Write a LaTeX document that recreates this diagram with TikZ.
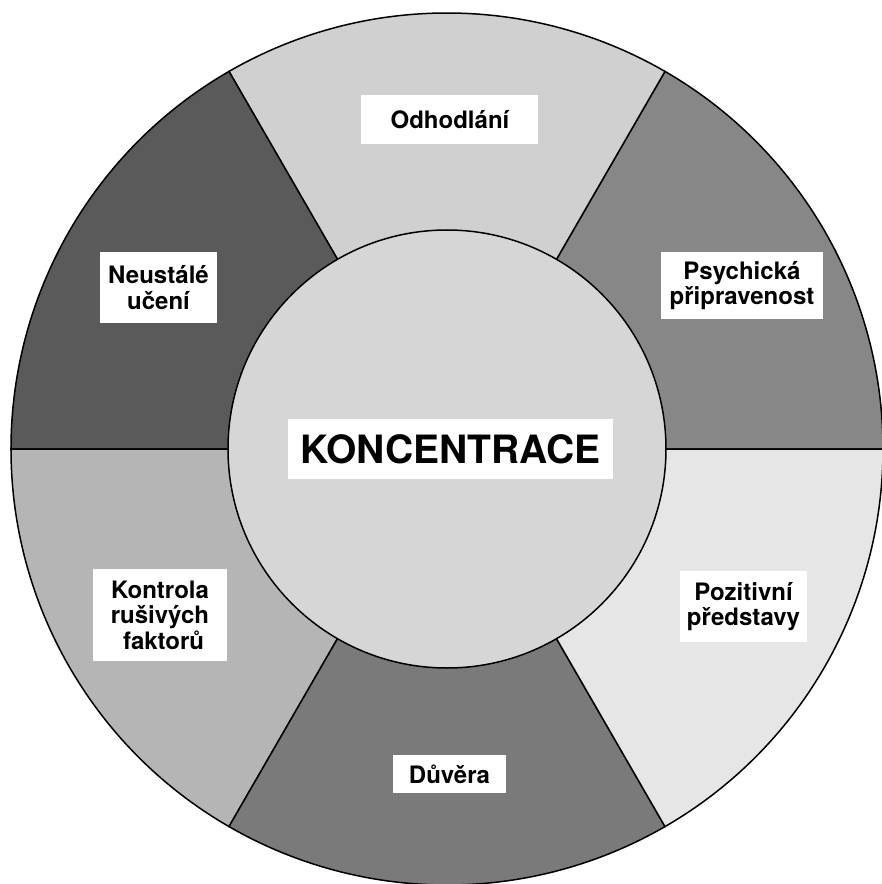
\documentclass[tikz,border=0pt]{standalone}
\usepackage{fontspec}
\setmainfont{TeX Gyre Heros}
\definecolor{psychicka}{HTML}{878787}
\definecolor{odhodlani}{HTML}{D0D0D0}
\definecolor{neustale}{HTML}{5A5A5A}
\definecolor{kontrola}{HTML}{B5B5B5}
\definecolor{duvera}{HTML}{7A7A7A}
\definecolor{pozitivni}{HTML}{E6E6E6}
\definecolor{stred}{HTML}{D6D6D6}

\begin{document}
\begin{tikzpicture}[x=1pt,y=1pt,line width=1.5pt,
  stitek/.style={fill=white, inner sep=0pt, align=center,
    font=\bfseries\fontsize{24}{25.5}\selectfont}]
\useasboundingbox (-447,-435) rectangle (435,449);
\newcommand\vysec[2]{
\path[draw,fill=#2] (0,0) -- (#1:436) arc[start angle=#1, end angle=#1+60, radius=436] -- cycle;
}
\vysec{0}{psychicka}
\vysec{60}{odhodlani}
\vysec{120}{neustale}
\vysec{180}{kontrola}
\vysec{240}{duvera}
\vysec{300}{pozitivni}
\path[draw,fill=stred] (0,0) circle[radius=219];
\node[stitek, minimum width=325pt, minimum height=60pt,
  font=\bfseries\fontsize{39}{42}\selectfont] (koncentrace) at (3.5,0) {KONCENTRACE};
\node[stitek, minimum width=177pt, minimum height=49pt] (odhodl) at (3,329) {Odhodlání};
\node[stitek, minimum width=162pt, minimum height=67pt] (psych) at (295,163.5) {Psychická\\připravenost};
\node[stitek, minimum width=127pt, minimum height=71pt] (pozit) at (296.5,-157.5) {Pozitivní\\představy};
\node[stitek, minimum width=113pt, minimum height=38pt] (duv) at (2.5,-325) {Důvěra};
\node[stitek, minimum width=134pt, minimum height=92pt] (kontr) at (-287,-166) {Kontrola\\rušivých\\\hspace*{0.3em}faktorů};
\node[stitek, minimum width=117pt, minimum height=71pt] (neust) at (-288.5,161.5) {Neustálé\\učení};
\end{tikzpicture}
\end{document}
